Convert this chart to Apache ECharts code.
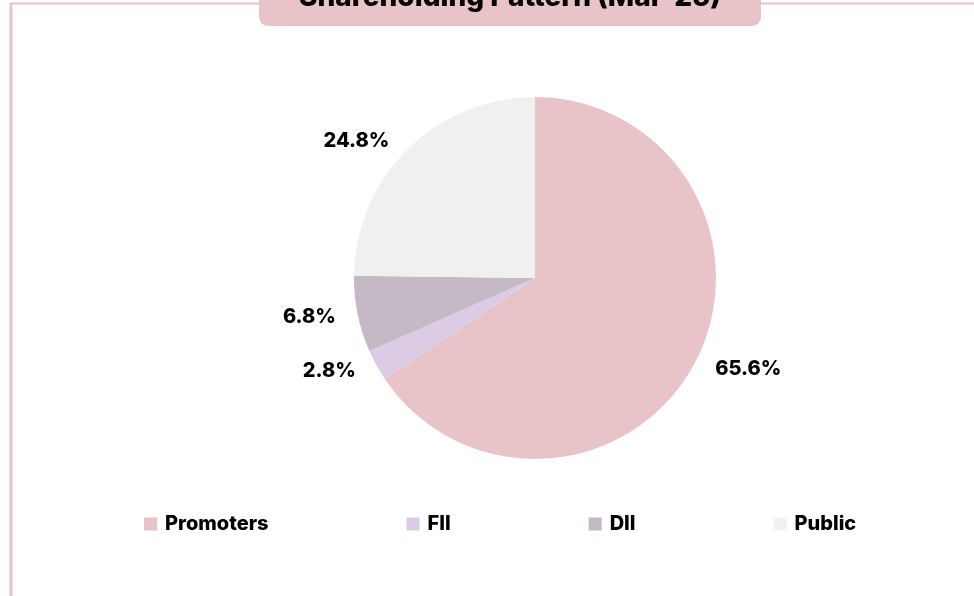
<!DOCTYPE html>
<html>
<head>
<meta charset="utf-8">
<script src="https://cdn.jsdelivr.net/npm/echarts@6/dist/echarts.min.js"></script>
<style>
  html, body { margin: 0; padding: 0; background: #ffffff; }
  #chart { width: 974px; height: 596px; }
</style>
</head>
<body>
<div id="chart"></div>
<script>
// Shareholding split as of Mar-25 (percent of equity)
const categories = ['Promoters', 'FII', 'DII', 'Public'];
const shares = [65.6, 2.8, 6.8, 24.8];
const colors = ['#e8c3c8', '#dccbe4', '#c5b9c6', '#f0f0f0'];
const chartTitle = 'Shareholding Pattern (Mar-25)';

const FONT = 'Inter, "Noto Sans", sans-serif';
const FRAME = '#e8c3c8';

const chart = echarts.init(document.getElementById('chart'), null, { renderer: 'canvas' });

chart.setOption({
  backgroundColor: '#ffffff',
  animation: false,
  graphic: [
    // page frame: top and left rules
    { type: 'line', z: 0, shape: { x1: 10, y1: 3.5, x2: 974, y2: 3.5 }, style: { stroke: FRAME, lineWidth: 2 } },
    { type: 'line', z: 0, shape: { x1: 11, y1: 3, x2: 11, y2: 596 }, style: { stroke: FRAME, lineWidth: 3 } },
    // title tab
    { type: 'rect', z: 1, shape: { x: 259, y: -20, width: 502, height: 46, r: [0, 0, 9, 9] }, style: { fill: '#e8c3c8' } },
    {
      type: 'text', z: 2,
      style: {
        x: 510, y: 8, text: chartTitle, font: '800 28px ' + FONT, fill: '#000000',
        align: 'center', verticalAlign: 'bottom', lineHeight: 20
      }
    }
  ],
  color: colors,
  legend: {
    bottom: 57,
    left: 139,
    itemGap: 138,
    itemWidth: 13,
    itemHeight: 13,
    icon: 'rect',
    data: categories,
    textStyle: { fontFamily: FONT, fontWeight: 800, fontSize: 20, color: '#000000', padding: [0, 0, 0, 3] }
  },
  series: [{
    type: 'pie',
    center: [535, 278],
    radius: 181,
    startAngle: 90,
    clockwise: true,
    avoidLabelOverlap: false,
    itemStyle: { borderWidth: 0 },
    emphasis: { disabled: true },
    label: {
      show: true,
      position: 'outside',
      formatter: p => p.value.toFixed(1) + '%',
      fontFamily: FONT,
      fontWeight: 800,
      fontSize: 20,
      color: '#000000'
    },
    labelLine: { show: false, length: 12, length2: 5 },
    data: categories.map((name, i) => ({ name, value: shares[i] }))
  }]
});
</script>
</body>
</html>
